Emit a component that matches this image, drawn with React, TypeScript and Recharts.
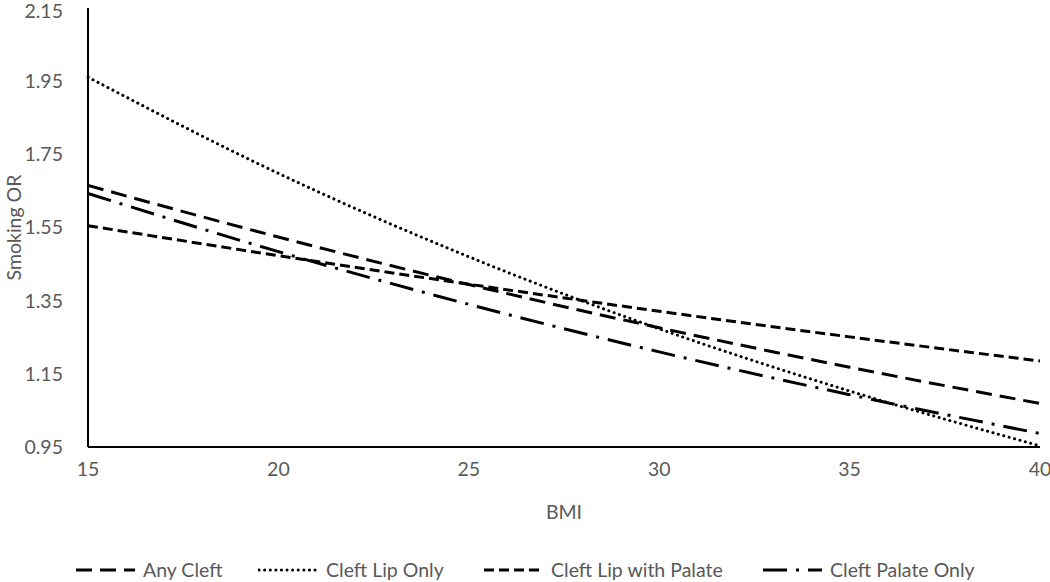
import React from 'react';
import { LineChart, Line, XAxis, YAxis, Legend } from 'recharts';

const bmi = [15, 20, 25, 30, 35, 40];
const anyCleft = [1.665, 1.524, 1.394, 1.276, 1.168, 1.069];
const cleftLipOnly = [1.961, 1.698, 1.47, 1.273, 1.103, 0.953];
const cleftLipPalate = [1.555, 1.473, 1.395, 1.321, 1.251, 1.185];
const cleftPalateOnly = [1.643, 1.484, 1.34, 1.21, 1.093, 0.987];
const yTicks = [0.95, 1.15, 1.35, 1.55, 1.75, 1.95, 2.15];
const xTicks = [15, 20, 25, 30, 35, 40];

const data = bmi.map((b, i) => ({
  bmi: b,
  any: anyCleft[i],
  lip: cleftLipOnly[i],
  lipPalate: cleftLipPalate[i],
  palate: cleftPalateOnly[i],
}));

const series = [
  { key: 'any', name: 'Any Cleft', dash: '16 8', cap: 'butt' as const, width: 3 },
  { key: 'lip', name: 'Cleft Lip Only', dash: '0.1 5.5', cap: 'round' as const, width: 3 },
  { key: 'lipPalate', name: 'Cleft Lip with Palate', dash: '10 5', cap: 'butt' as const, width: 3 },
  { key: 'palate', name: 'Cleft Palate Only', dash: '24 9 3 9', cap: 'butt' as const, width: 3 },
];

const FONT = 'Lato, "Open Sans", sans-serif';
const GREY = '#595959';
const FS = 19.5;

const legendPos = [75, 258, 483, 762];

const LegendContent = () => (
  <div style={{ position: 'relative', height: 30, width: 1050, fontFamily: FONT, fontSize: FS, color: GREY }}>
    {series.map((s, i) => (
      <div key={s.key} style={{ position: 'absolute', left: legendPos[i], top: 8, display: 'flex', alignItems: 'center' }}>
        <svg width={62} height={20}>
          <line x1={1} y1={10} x2={60} y2={10} stroke="#000" strokeWidth={s.width} strokeDasharray={s.dash} strokeLinecap={s.cap} />
        </svg>
        <span style={{ marginLeft: 6, whiteSpace: 'nowrap', lineHeight: '20px' }}>{s.name}</span>
      </div>
    ))}
  </div>
);

export default function App() {
  return (
    <div style={{ position: 'absolute', left: 0, top: 0, background: '#fff' }}>
      <LineChart width={1050} height={582} data={data} margin={{ top: 8, right: 10, left: 0, bottom: 0 }}>
        <XAxis
          dataKey="bmi"
          type="number"
          domain={[15, 40]}
          ticks={xTicks}
          tickLine={false}
          axisLine={{ stroke: '#000', strokeWidth: 2 }}
          tick={{ fill: GREY, fontSize: FS, fontFamily: FONT }}
          tickMargin={9}
          height={105}
          label={{ value: 'BMI', position: 'insideTop', offset: 58, fill: GREY, fontSize: FS, fontFamily: FONT }}
        />
        <YAxis
          type="number"
          domain={[0.95, 2.15]}
          ticks={yTicks}
          tickFormatter={(v: number) => v.toFixed(2)}
          tickLine={false}
          axisLine={{ stroke: '#000', strokeWidth: 2 }}
          tick={{ fill: GREY, fontSize: FS, fontFamily: FONT }}
          tickMargin={19}
          width={88}
          label={{ value: 'Smoking OR', angle: -90, position: 'insideLeft', offset: 14, fill: GREY, fontSize: FS, fontFamily: FONT, style: { textAnchor: 'middle' } }}
        />
        <Legend verticalAlign="bottom" content={<LegendContent />} wrapperStyle={{ left: 0, width: 1050, height: 30 }} />
        {series.map((s) => (
          <Line
            key={s.key}
            type="monotone"
            dataKey={s.key}
            name={s.name}
            stroke="#000"
            strokeWidth={s.width}
            strokeDasharray={s.dash}
            strokeLinecap={s.cap}
            dot={false}
            activeDot={false}
            isAnimationActive={false}
          />
        ))}
      </LineChart>
    </div>
  );
}
